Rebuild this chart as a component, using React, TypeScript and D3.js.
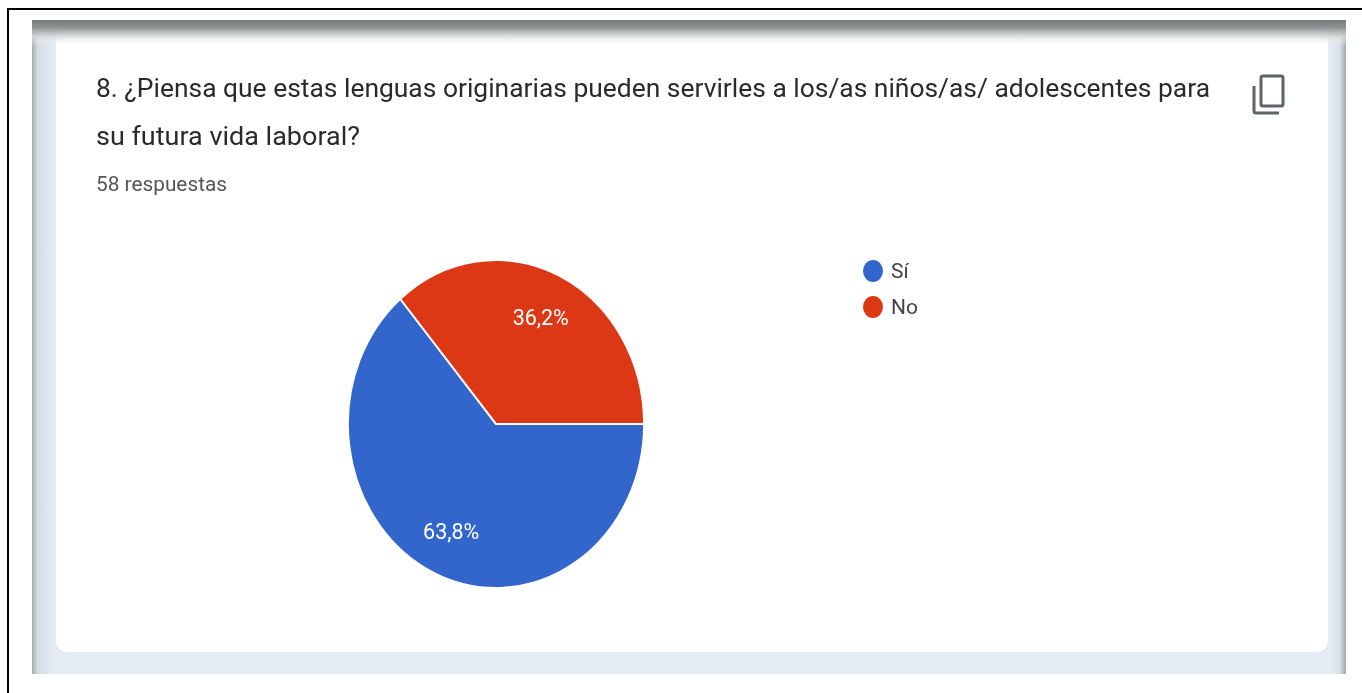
import React from "react";
import * as d3 from "d3";

const categories = ["Sí", "No"];
const shares = [63.8, 36.2];
const shareLabels = ["63,8%", "36,2%"];
const sliceColors = ["#3366cc", "#dc3912"];
const titleLines = [
  "8. ¿Piensa que estas lenguas originarias pueden servirles a los/as niños/as/ adolescentes para",
  "su futura vida laboral?",
];
const responseCount = "58 respuestas";

const RX = 148;
const RY = 164;
const CX = 496;
const CY = 424;
const FONT = "Roboto, sans-serif";

export default function App() {
  const pie = d3
    .pie<number>()
    .sort(null)
    .startAngle(Math.PI / 2)
    .endAngle(Math.PI / 2 + 2 * Math.PI);
  const arcs = pie(shares);
  const arc = d3.arc<d3.PieArcDatum<number>>().innerRadius(0).outerRadius(RX);
  const labelArc = d3
    .arc<d3.PieArcDatum<number>>()
    .innerRadius(RX * 0.72)
    .outerRadius(RX * 0.72);
  const sy = RY / RX;

  return (
    <svg
      width={1362}
      height={693}
      style={{ position: "absolute", left: 0, top: 0, display: "block", background: "#fff" }}
    >
      <defs>
        <linearGradient id="topShade" x1="0" y1="0" x2="0" y2="1">
          <stop offset="0" stopColor="#767c7e" />
          <stop offset="0.3" stopColor="#8f9495" />
          <stop offset="0.65" stopColor="#d8dada" stopOpacity="0.8" />
          <stop offset="1" stopColor="#ffffff" stopOpacity="0" />
        </linearGradient>
        <linearGradient id="leftShade" x1="0" y1="0" x2="1" y2="0">
          <stop offset="0" stopColor="#a4acaf" />
          <stop offset="0.25" stopColor="#d5dde3" />
          <stop offset="1" stopColor="#e6ecf4" />
        </linearGradient>
        <linearGradient id="rightShade" x1="0" y1="0" x2="1" y2="0">
          <stop offset="0" stopColor="#e6ecf4" />
          <stop offset="0.65" stopColor="#d8e0e5" />
          <stop offset="1" stopColor="#a0a8ab" />
        </linearGradient>
        <filter id="soft" x="-5%" y="-5%" width="110%" height="110%">
          <feGaussianBlur stdDeviation="0.5" />
        </filter>
      </defs>

      {/* page frame */}
      <line x1={7} y1={9} x2={1362} y2={9} stroke="#000" strokeWidth={2} />
      <line x1={8} y1={9} x2={8} y2={693} stroke="#000" strokeWidth={2} />

      {/* backdrop and card */}
      <rect x={32} y={20} width={1314} height={654} fill="#e6ecf4" />
      <rect x={32} y={20} width={24} height={654} fill="url(#leftShade)" />
      <rect x={1328} y={20} width={18} height={654} fill="url(#rightShade)" />
      <rect x={56} y={28} width={1272} height={624} rx={12} fill="#fff" />
      <rect x={32} y={20} width={1314} height={26} fill="url(#topShade)" />

      <g filter="url(#soft)">
        {/* heading */}
        {titleLines.map((line, i) => (
          <text
            key={line}
            x={96}
            y={97 + i * 48}
            fontFamily={FONT}
            fontSize={26}
            fill="#2b2b2b"
            textLength={i === 0 ? 1114 : 264}
            lengthAdjust="spacingAndGlyphs"
          >
            {line}
          </text>
        ))}
        <text x={96} y={191} fontFamily={FONT} fontSize={21} fill="#555" textLength={131} lengthAdjust="spacingAndGlyphs">
          {responseCount}
        </text>

        {/* copy icon */}
        <g fill="none" stroke="#5f6368" strokeWidth={3}>
          <rect x={1261} y={76} width={22} height={30} rx={2} />
          <path d="M1254 86 V111 Q1254 113 1256 113 H1279" />
        </g>

        {/* pie, stretched vertically */}
        <g transform={`translate(${CX},${CY}) scale(1,${sy})`}>
          {arcs.map((d, i) => (
            <path key={categories[i]} d={arc(d) ?? ""} fill={sliceColors[i]} stroke="#fff" strokeWidth={1.8} />
          ))}
        </g>
        {arcs.map((d, i) => {
          const [x, y] = labelArc.centroid(d);
          return (
            <text
              key={shareLabels[i]}
              x={CX + x}
              y={CY + y * sy}
              dy="0.36em"
              textAnchor="middle"
              fontFamily={FONT}
              fontSize={21.5}
              fill="#fff"
            >
              {shareLabels[i]}
            </text>
          );
        })}

        {/* legend */}
        {categories.map((c, i) => (
          <g key={c}>
            <ellipse cx={873} cy={271 + i * 36} rx={10} ry={11} fill={sliceColors[i]} />
            <text x={891} y={278 + i * 36} fontFamily={FONT} fontSize={21} fill="#444">
              {c}
            </text>
          </g>
        ))}
      </g>
    </svg>
  );
}
